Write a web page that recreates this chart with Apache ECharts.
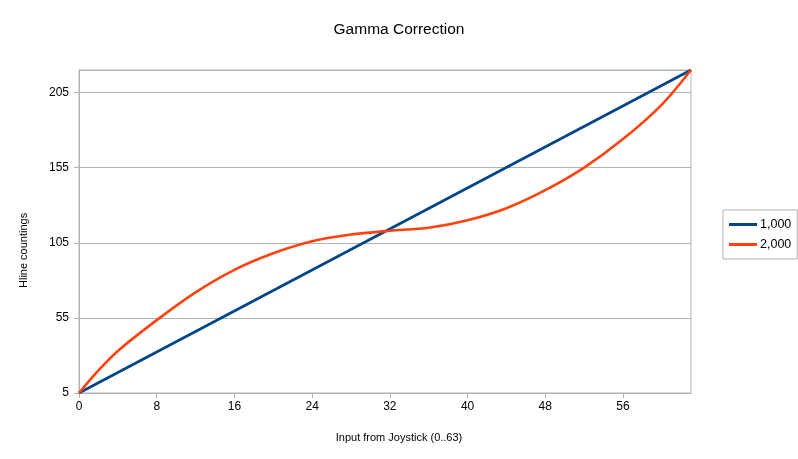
<!DOCTYPE html>
<html>
<head>
<meta charset="utf-8">
<script src="https://cdn.jsdelivr.net/npm/echarts@6/dist/echarts.min.js"></script>
<style>html,body{margin:0;padding:0;background:#fff}#c{width:798px;height:459px}</style>
</head>
<body>
<div id="c"></div>
<script>
const titleText = 'Gamma Correction';
const xAxisTitle = 'Input from Joystick (0..63)';
const yAxisTitle = 'Hline countings';
const seriesNames = ['1,000', '2,000'];
const linearX = [0, 63];
const linearY = [5, 220];
const gammaX = [0, 2, 4, 8, 12, 16, 20, 24, 28, 32, 36, 40, 44, 48, 52, 56, 60, 63];
const gammaY = [5, 20, 33, 53.5, 72, 87, 98, 106, 110.5, 113, 115, 120, 128, 140, 155, 174, 197, 220];

const chart = echarts.init(document.getElementById('c'));
const font = 'Liberation Sans, Arial, sans-serif';
chart.setOption({
  animation: false,
  backgroundColor: '#fff',
  title: {
    text: titleText, left: 'center', top: 17,
    textStyle: { fontFamily: font, fontSize: 15.5, fontWeight: 'normal', color: '#000' }
  },
  legend: {
    orient: 'vertical', left: 723, top: 210,
    itemWidth: 28, itemHeight: 3, itemGap: 7,
    padding: [8, 6, 8, 6],
    borderColor: '#b3b3b3', borderWidth: 1,
    icon: 'rect',
    textStyle: { fontFamily: font, fontSize: 12.5, color: '#000', padding: [0, 0, 0, -2] },
    data: seriesNames
  },
  grid: {
    left: 79, right: 107, top: 70, bottom: 66,
    show: true, borderColor: '#b3b3b3', borderWidth: 1
  },
  xAxis: {
    type: 'value', min: 0, max: 63, interval: 8,
    axisLine: { lineStyle: { color: '#b3b3b3', width: 1 } },
    axisTick: { show: true, length: 5, lineStyle: { color: '#b3b3b3' } },
    axisLabel: { showMaxLabel: false, fontFamily: font, fontSize: 12, color: '#000', margin: 8 },
    splitLine: { show: false }
  },
  yAxis: {
    type: 'value', min: 5, max: 220, interval: 50,
    axisLine: { show: true, lineStyle: { color: '#b3b3b3', width: 1 } },
    axisTick: { show: true, length: 5, lineStyle: { color: '#b3b3b3' } },
    axisLabel: { showMaxLabel: false, fontFamily: font, fontSize: 12, color: '#000', margin: 10 },
    splitLine: { show: true, lineStyle: { color: '#b3b3b3', width: 1 } }
  },
  graphic: [
    { type: 'text', left: 'center', top: 432, style: { text: xAxisTitle, fontFamily: font, fontSize: 11, fill: '#000', x: -28 } },
    { type: 'text', x: 18, y: 288, rotation: Math.PI / 2, style: { text: yAxisTitle, fontFamily: font, fontSize: 11, fill: '#000' } }
  ],
  series: [
    {
      name: seriesNames[0], type: 'line', showSymbol: false,
      data: linearX.map((x, i) => [x, linearY[i]]),
      lineStyle: { color: '#004586', width: 2.6 }, itemStyle: { color: '#004586' }
    },
    {
      name: seriesNames[1], type: 'line', showSymbol: false, smooth: 0.3,
      data: gammaX.map((x, i) => [x, gammaY[i]]),
      lineStyle: { color: '#ff420e', width: 2.6 }, itemStyle: { color: '#ff420e' }
    }
  ]
});
</script>
</body>
</html>
